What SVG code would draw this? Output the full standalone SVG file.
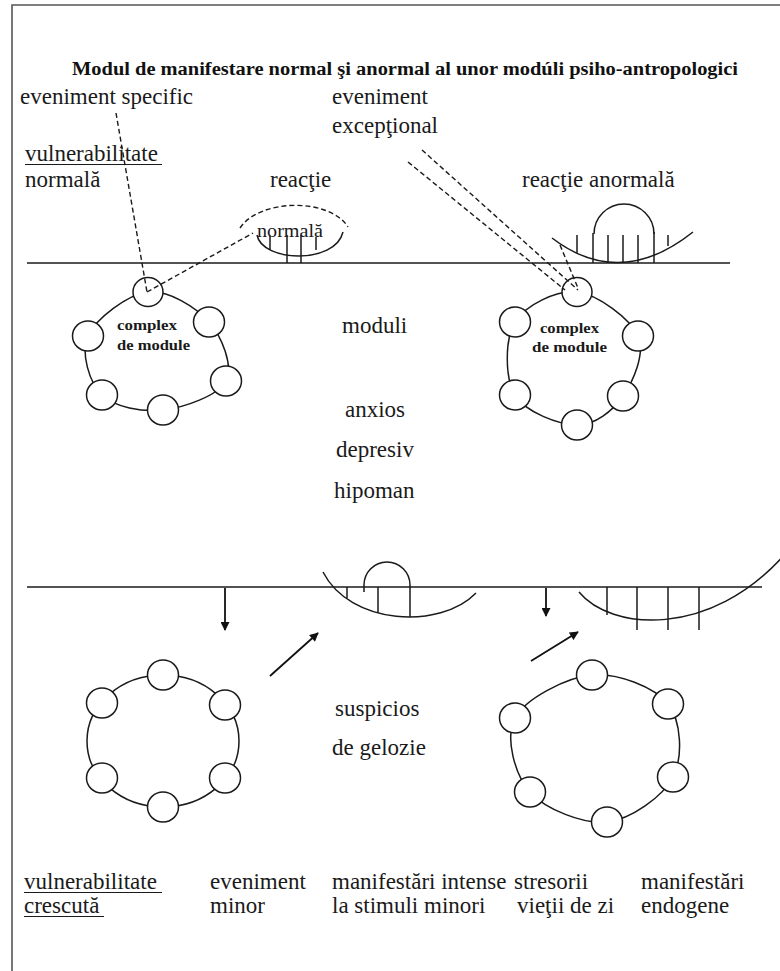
<svg xmlns="http://www.w3.org/2000/svg" width="780" height="971" viewBox="0 0 780 971">
<defs>
<style>
.t{font-family:"Liberation Serif","Times New Roman",serif;font-size:23px;fill:#1a1a1a}
.ts{font-family:"Liberation Serif","Times New Roman",serif;font-size:18px;fill:#1a1a1a}
.tb{font-family:"Liberation Serif","Times New Roman",serif;font-size:15px;font-weight:bold;fill:#1a1a1a}
.title{font-family:"Liberation Serif","Times New Roman",serif;font-size:18px;font-weight:bold;fill:#111}
.ln{fill:none;stroke:#1a1a1a;stroke-width:1.5}
.ring{fill:none;stroke:#1a1a1a;stroke-width:1.5}
.sc{fill:#fff;stroke:#1a1a1a;stroke-width:1.5}
.dash{fill:none;stroke:#1a1a1a;stroke-width:1.4;stroke-dasharray:5 3}
.arr{fill:none;stroke:#111;stroke-width:1.8}
.ul{stroke:#1a1a1a;stroke-width:1.2}
</style>
<marker id="ah" viewBox="0 0 10 10" refX="9" refY="5" markerWidth="10" markerHeight="9" markerUnits="userSpaceOnUse" orient="auto">
<path d="M0,0 L10,5 L0,10 Z" fill="#111"/>
</marker>
</defs>
<rect width="780" height="971" fill="#fff"/>
<path d="M12,971 V5 H780" fill="none" stroke="#555" stroke-width="1.6"/>

<g id="title">
<text class="title" x="72" y="75" textLength="666" lengthAdjust="spacingAndGlyphs">Modul de manifestare normal şi anormal al unor modúli psiho-antropologici</text>
</g>

<g id="labels-top">
<text class="t" x="20" y="104">eveniment specific</text>
<text class="t" x="332" y="104">eveniment</text>
<text class="t" x="332" y="133">excepţional</text>
<text class="t" x="25" y="161">vulnerabilitate</text>
<line class="ul" x1="25" y1="164.5" x2="162" y2="164.5"/>
<text class="t" x="25" y="187">normală</text>
<text class="t" x="270" y="187">reacţie</text>
<text class="t" x="522" y="187">reacţie anormală</text>
</g>

<g id="baseline-top"><line class="ln" x1="27" y1="263" x2="730" y2="263"/></g>
<g id="baseline-bottom"><line class="ln" x1="27" y1="587" x2="762" y2="587"/></g>

<g id="reaction-normal">
<path class="dash" d="M240,228 C260,198 330,198 348,227"/>
<path class="ln" d="M257,235 C262,262 335,265 343,232"/>
<line class="ln" x1="270" y1="235" x2="270" y2="250"/>
<line class="ln" x1="287" y1="235" x2="287" y2="263"/>
<line class="ln" x1="301" y1="235" x2="301" y2="263"/>
<line class="ln" x1="316" y1="237" x2="316" y2="250"/>
<text class="ts" x="257" y="237" textLength="66" lengthAdjust="spacingAndGlyphs">normală</text>
</g>

<g id="reaction-abnormal">
<path class="ln" d="M552,238 Q620,290 693,232"/>
<path class="ln" d="M594,234 A30,30 0 0 1 654,234"/>
<line class="ln" x1="577" y1="235" x2="577" y2="253"/>
<line class="ln" x1="593" y1="233" x2="593" y2="263"/>
<line class="ln" x1="608" y1="235" x2="608" y2="263"/>
<line class="ln" x1="623" y1="235" x2="623" y2="263"/>
<line class="ln" x1="638" y1="235" x2="638" y2="263"/>
<line class="ln" x1="654" y1="232" x2="654" y2="263"/>
<line class="ln" x1="668" y1="235" x2="668" y2="246"/>
</g>

<g id="ring-top-left">
<path class="ring" d="M148,292 C168.2,289.7 196,307.2 209,322 C222,336.8 233.7,366.3 226,381 C218.3,395.7 183.7,407.7 163,410 C142.3,412.3 114.5,407.3 102,395 C89.5,382.7 80.3,353.2 88,336 C95.7,318.8 127.8,294.3 148,292 Z"/>
<ellipse class="sc" cx="148" cy="292" rx="15" ry="14.5"/>
<ellipse class="sc" cx="209" cy="322" rx="15.5" ry="15"/>
<ellipse class="sc" cx="226" cy="381" rx="15.5" ry="15"/>
<ellipse class="sc" cx="163" cy="410" rx="15.5" ry="15"/>
<ellipse class="sc" cx="102" cy="395" rx="15.5" ry="15"/>
<ellipse class="sc" cx="88" cy="336" rx="15.5" ry="15"/>
<text class="tb" x="117" y="330" textLength="60" lengthAdjust="spacingAndGlyphs">complex</text>
<text class="tb" x="117" y="350" textLength="73" lengthAdjust="spacingAndGlyphs">de module</text>
</g>

<g id="ring-top-right">
<path class="ring" d="M577,292 C597.5,294.3 630.3,318.7 638,336 C645.7,353.3 633.2,381.2 623,396 C612.8,410.8 595,425.2 577,425 C559,424.8 525.3,412.2 515,395 C504.7,377.8 504.7,339.2 515,322 C525.3,305.2 556.5,289.7 577,292 Z"/>
<ellipse class="sc" cx="577" cy="292" rx="15" ry="14.5"/>
<ellipse class="sc" cx="638" cy="336" rx="15.5" ry="15"/>
<ellipse class="sc" cx="623" cy="396" rx="15.5" ry="15"/>
<ellipse class="sc" cx="577" cy="425" rx="15.5" ry="15"/>
<ellipse class="sc" cx="515" cy="395" rx="15.5" ry="15"/>
<ellipse class="sc" cx="515" cy="322" rx="15.5" ry="15"/>
<text class="tb" x="540" y="333" textLength="59" lengthAdjust="spacingAndGlyphs">complex</text>
<text class="tb" x="532" y="352" textLength="75" lengthAdjust="spacingAndGlyphs">de module</text>
</g>

<g id="labels-middle">
<text class="t" x="342" y="333">moduli</text>
<text class="t" x="345" y="417">anxios</text>
<text class="t" x="336" y="457">depresiv</text>
<text class="t" x="334" y="498">hipoman</text>
<text class="t" x="335" y="716">suspicios</text>
<text class="t" x="332" y="755">de gelozie</text>
</g>

<g id="reaction-bottom-mid">
<path class="ln" d="M323,572 C350,625 440,630 476,593"/>
<path class="ln" d="M364,592 V585 A23,23 0 0 1 410,585 V617"/>
<line class="ln" x1="347" y1="587" x2="347" y2="598"/>
<line class="ln" x1="378" y1="587" x2="378" y2="613"/>
</g>

<g id="reaction-bottom-right">
<path class="ln" d="M579,592 C610,630 710,640 786,553"/>
<line class="ln" x1="607" y1="587" x2="607" y2="615"/>
<line class="ln" x1="637" y1="587" x2="637" y2="630"/>
<line class="ln" x1="668" y1="587" x2="668" y2="630"/>
<line class="ln" x1="699" y1="587" x2="699" y2="630"/>
</g>

<g id="ring-bottom-left">
<ellipse class="ring" cx="163" cy="741" rx="76" ry="66"/>
<ellipse class="sc" cx="163" cy="675" rx="15.5" ry="15"/>
<ellipse class="sc" cx="102" cy="703" rx="15.5" ry="15"/>
<ellipse class="sc" cx="225" cy="705" rx="15.5" ry="15"/>
<ellipse class="sc" cx="102" cy="778" rx="15.5" ry="15"/>
<ellipse class="sc" cx="225" cy="778" rx="15.5" ry="15"/>
<ellipse class="sc" cx="163" cy="807" rx="15.5" ry="15"/>
</g>

<g id="ring-bottom-right">
<path class="ring" d="M592,675 C617.5,672.7 654.5,687 668,704 C681.5,721 683.2,757.3 673,777 C662.8,796.7 630.8,819.5 607,822 C583.2,824.5 545.3,809.3 530,792 C514.7,774.7 504.7,737.5 515,718 C525.3,698.5 566.5,677.3 592,675 Z"/>
<ellipse class="sc" cx="592" cy="675" rx="15.5" ry="15"/>
<ellipse class="sc" cx="668" cy="704" rx="15.5" ry="15"/>
<ellipse class="sc" cx="673" cy="777" rx="15.5" ry="15"/>
<ellipse class="sc" cx="607" cy="822" rx="15.5" ry="15"/>
<ellipse class="sc" cx="530" cy="792" rx="15.5" ry="15"/>
<ellipse class="sc" cx="515" cy="718" rx="15.5" ry="15"/>
</g>

<g id="labels-bottom">
<text class="t" x="24" y="889">vulnerabilitate</text>
<line class="ul" x1="24" y1="892.5" x2="162" y2="892.5"/>
<text class="t" x="24" y="913">crescută</text>
<line class="ul" x1="24" y1="916.5" x2="104" y2="916.5"/>
<text class="t" x="210" y="889">eveniment</text>
<text class="t" x="210" y="913">minor</text>
<text class="t" x="332" y="889">manifestări intense</text>
<text class="t" x="332" y="913">la stimuli minori</text>
<text class="t" x="514" y="889">stresorii</text>
<text class="t" x="517" y="913">vieţii de zi</text>
<text class="t" x="641" y="889">manifestări</text>
<text class="t" x="641" y="913">endogene</text>
</g>

<g id="connectors">
<line class="dash" x1="116" y1="113" x2="147" y2="292"/>
<line class="dash" x1="147" y1="292" x2="253" y2="233"/>
<line class="dash" x1="408" y1="162" x2="565" y2="290"/>
<line class="dash" x1="422" y1="150" x2="578" y2="290"/>
<line class="dash" x1="560" y1="245" x2="578" y2="288"/>
<line class="arr" x1="225" y1="588" x2="225" y2="630" marker-end="url(#ah)"/>
<line class="arr" x1="546" y1="588" x2="546" y2="616" marker-end="url(#ah)"/>
<line class="arr" x1="270" y1="676" x2="318" y2="633" marker-end="url(#ah)"/>
<line class="arr" x1="531" y1="661" x2="578" y2="632" marker-end="url(#ah)"/>
</g>
</svg>
